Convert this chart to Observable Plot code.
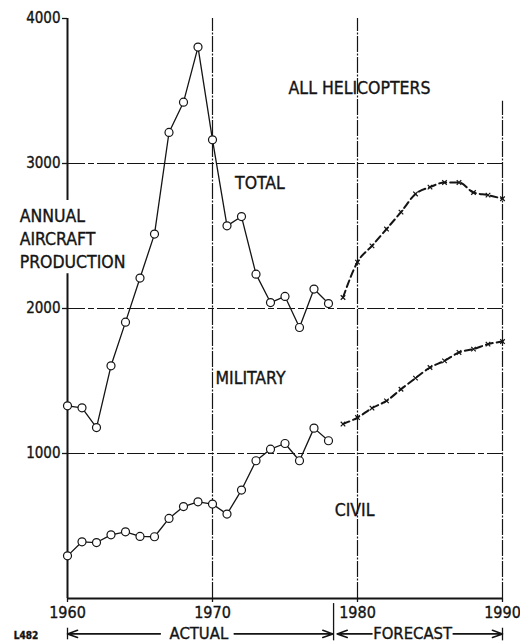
<!DOCTYPE html>
<html>
<head>
<meta charset="utf-8">
<script src="https://cdn.jsdelivr.net/npm/d3@7"></script>
<script src="https://cdn.jsdelivr.net/npm/@observablehq/plot@0.6"></script>
<style>
  html, body { margin: 0; padding: 0; background: #fff; }
  #chart svg { display: block; }
  #chart svg text { stroke: #141414; stroke-width: 0.35px; }
</style>
</head>
<body>
<div id="chart"></div>
<script>
// ---- Data ----
const actualYears = [1960,1961,1962,1963,1964,1965,1966,1967,1968,1969,1970,1971,1972,1973,1974,1975,1976,1977,1978];
const totalActual = [1329,1315,1179,1605,1906,2210,2513,3214,3423,3803,3163,2570,2634,2237,2041,2083,1869,2134,2034];
const civilActual = [294,391,386,439,460,428,426,552,634,667,651,582,748,950,1030,1069,950,1175,1088];

const forecastYears = [1979,1980,1981,1982,1983,1984,1985,1986,1987,1988,1989,1990];
const totalForecast = [2076,2320,2432,2548,2665,2790,2837,2869,2869,2800,2782,2757];
const civilForecast = [1203,1248,1313,1363,1443,1520,1593,1639,1697,1720,1754,1772];

const xTicks = [1960,1970,1980,1990];
const yTicks = [1000,2000,3000,4000];
const gridValues = [1000,2000,3000];

// ---- Build tables ----
const totA = actualYears.map((year, i) => ({year, value: totalActual[i]}));
const civA = actualYears.map((year, i) => ({year, value: civilActual[i]}));
const totF = forecastYears.map((year, i) => ({year, value: totalForecast[i]}));
const civF = forecastYears.map((year, i) => ({year, value: civilForecast[i]}));

const FONT = "'DejaVu Sans Condensed','Liberation Sans Narrow','Roboto Condensed','DejaVu Sans',sans-serif";
const INK = "#141414";

// annotation anchors (data units)
const FOOT = -244;
const vGrid = [{x: 1970, y1: 0, y2: 4000}, {x: 1980, y1: 0, y2: 4000}, {x: 1990, y1: 0, y2: 3430}];
const leftAxis = [{y1: 0, y2: 2240}, {y1: 2745, y2: 4000}];
const footBars = [{x: 1960, y1: -205, y2: -285}, {x: 1978.35, y1: -35, y2: -292}, {x: 1990, y1: -205, y2: -292}];
const footArrows = [
  {x1: 1966.4, x2: 1960, y: FOOT},
  {x1: 1971.5, x2: 1978.3, y: FOOT},
  {x1: 1981.0, x2: 1978.6, y: FOOT},
  {x1: 1986.6, x2: 1990, y: FOOT}
];
const footLabels = [{x: 1969.06, text: "ACTUAL"}, {x: 1983.8, text: "FORECAST"}];
const yLabelLines = [{y: 2635, text: "ANNUAL"}, {y: 2476, text: "AIRCRAFT"}, {y: 2318, text: "PRODUCTION"}];
const notes = [
  {x: 1980.14, y: 3518, text: "ALL HELICOPTERS"},
  {x: 1973.27, y: 2863, text: "TOTAL"},
  {x: 1972.62, y: 1517, text: "MILITARY"},
  {x: 1979.8, y: 605, text: "CIVIL"}
];

const chart = Plot.plot({
  width: 520,
  height: 644,
  marginLeft: 67,
  marginRight: 18,
  marginTop: 18,
  marginBottom: 46,
  x: {domain: [1960, 1990], label: null},
  y: {domain: [0, 4000], label: null},
  style: {fontFamily: FONT, fontSize: "15px", color: INK, background: "white"},
  marks: [
    // grid
    Plot.ruleY(gridValues, {x1: 1960, x2: 1990, stroke: INK, strokeWidth: 1, strokeDasharray: "18,3,6,3"}),
    Plot.ruleX(vGrid, {x: "x", y1: "y1", y2: "y2", stroke: INK, strokeWidth: 1.2, strokeDasharray: "16,1.5,2,1.5"}),
    // axes frame
    Plot.ruleY([0], {x1: 1960, x2: 1990, stroke: INK, strokeWidth: 2}),
    Plot.ruleX(leftAxis, {x: 1960, y1: "y1", y2: "y2", stroke: INK, strokeWidth: 2}),
    Plot.axisY({ticks: yTicks, tickSize: 5, tickPadding: 2, tickFormat: d => String(d), fontSize: 15, label: null, stroke: INK, strokeWidth: 1.3}),
    Plot.axisX({ticks: xTicks, tickSize: 4, tickPadding: 4, tickFormat: d => String(d), fontSize: 16, label: null, stroke: INK, strokeWidth: 1.3}),
    // actual lines
    Plot.line(totA, {x: "year", y: "value", stroke: INK, strokeWidth: 1.3}),
    Plot.dot(totA, {x: "year", y: "value", r: 4, fill: "white", stroke: INK, strokeWidth: 1.2}),
    Plot.line(civA, {x: "year", y: "value", stroke: INK, strokeWidth: 1.3}),
    Plot.dot(civA, {x: "year", y: "value", r: 4, fill: "white", stroke: INK, strokeWidth: 1.2}),
    // forecast lines
    Plot.line(totF, {x: "year", y: "value", stroke: INK, strokeWidth: 2, strokeDasharray: "7,4", curve: "monotone-x"}),
    Plot.dot(totF, {x: "year", y: "value", symbol: "times", r: 2.2, stroke: INK, strokeWidth: 1.2}),
    Plot.line(civF, {x: "year", y: "value", stroke: INK, strokeWidth: 2, strokeDasharray: "7,4", curve: "monotone-x"}),
    Plot.dot(civF, {x: "year", y: "value", symbol: "times", r: 2.2, stroke: INK, strokeWidth: 1.2}),
    // labels
    Plot.text(yLabelLines, {x: 1956.7, y: "y", text: "text", textAnchor: "start", fontSize: 17.5, fill: INK}),
    Plot.text(notes, {x: "x", y: "y", text: "text", fontSize: 17.5, fill: INK}),
    // footer
    Plot.arrow(footArrows, {x1: "x1", x2: "x2", y1: "y", y2: "y", stroke: INK, strokeWidth: 1.6, headLength: 10, headAngle: 40}),
    Plot.ruleX(footBars, {x: "x", y1: "y1", y2: "y2", stroke: INK, strokeWidth: 1.3}),
    Plot.text(footLabels, {x: "x", y: FOOT, text: "text", fontSize: 16.5, fill: INK}),
    Plot.text(["L482"], {x: 1956.3, y: FOOT - 10, text: d => d, textAnchor: "start", fontSize: 10, fontWeight: "bold", fill: INK})
  ]
});
document.getElementById("chart").appendChild(chart);
</script>
</body>
</html>
